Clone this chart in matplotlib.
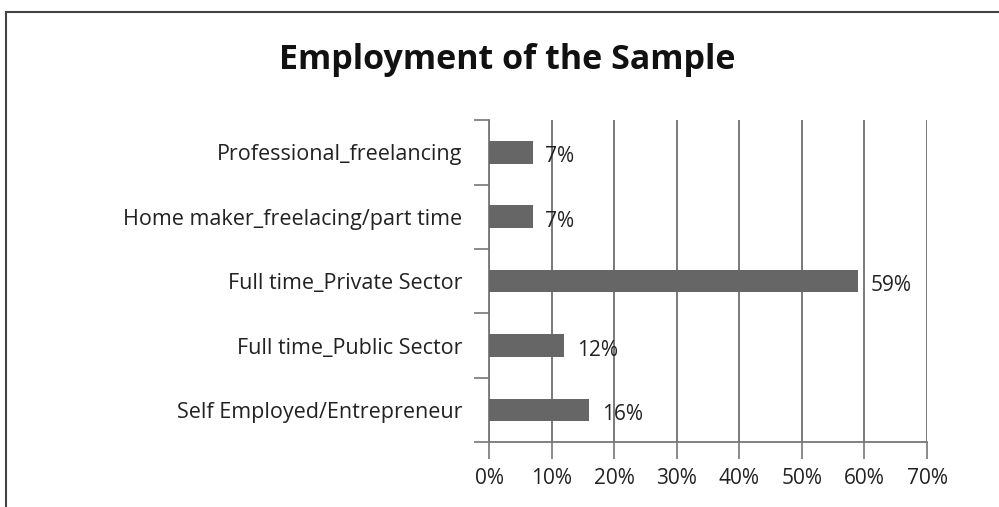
import matplotlib.pyplot as plt
from matplotlib.lines import Line2D

categories = ['Self Employed/Entrepreneur', 'Full time_Public Sector',
              'Full time_Private Sector', 'Home maker_freelacing/part time',
              'Professional_freelancing']
values = [16, 12, 59, 7, 7]
xticks = [0, 10, 20, 30, 40, 50, 60, 70]

plt.rcParams['font.family'] = ['Open Sans', 'DejaVu Sans']

fig = plt.figure(figsize=(9.99, 5.07), dpi=100)
ax = fig.add_axes([0.4895, 0.128, 0.4385, 0.635])

ypos = range(len(categories))
ax.barh(ypos, values, height=0.35, color='#666666', zorder=3)
for y, v in zip(ypos, values):
    ax.text(v + 2.0, y - 0.07, f'{v}%', va='center', ha='left',
            fontsize=15, color='#222222', zorder=4)

ax.set_xlim(0, 70)
ax.set_ylim(-0.5, len(categories) - 0.5)
ax.set_xticks(xticks)
ax.set_xticklabels([f'{t}%' for t in xticks], fontsize=15, color='#222222')
ax.set_yticks(list(ypos))
ax.set_yticklabels(categories, fontsize=15.5, color='#222222')
ax.set_yticks([i - 0.5 for i in range(len(categories) + 1)], minor=True)

ax.tick_params(axis='y', which='major', length=0, pad=19)
ax.tick_params(axis='y', which='minor', length=11, width=1.2, color='#777777')
ax.tick_params(axis='x', length=12, width=1.2, color='#777777', pad=7)

ax.grid(axis='x', color='#6e6e6e', linewidth=1.3, zorder=1)
for s in ['top', 'right']:
    ax.spines[s].set_visible(False)
for s in ['left', 'bottom']:
    ax.spines[s].set_color('#777777')
    ax.spines[s].set_linewidth(1.3)

fig.text(0.508, 0.882, 'Employment of the Sample', ha='center', va='center',
         fontsize=24.5, fontweight='bold', color='#111111')

# outer frame (top and left edges visible)
fig.add_artist(Line2D([0.0065, 1.0], [0.976, 0.976], color='#444444', lw=1.5))
fig.add_artist(Line2D([0.0065, 0.0065], [0.0, 0.976], color='#444444', lw=1.5))

fig.savefig('out.png', dpi=100)
